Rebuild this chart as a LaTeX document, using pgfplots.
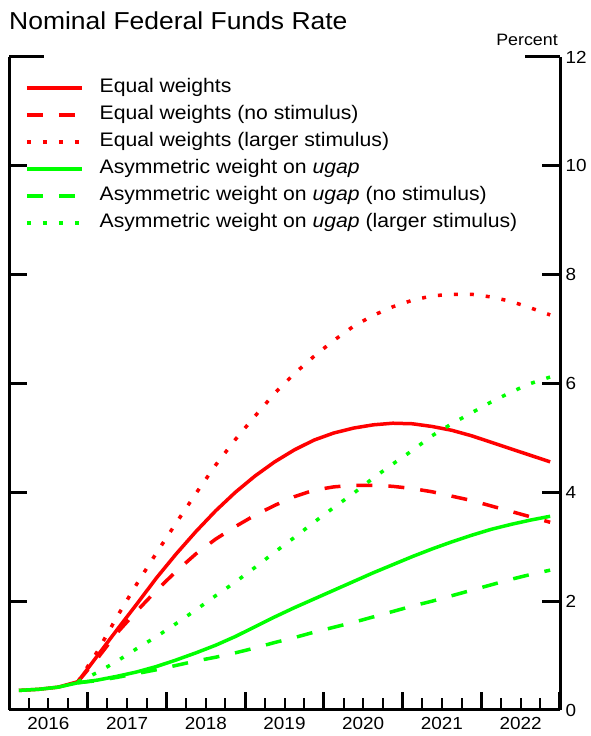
\documentclass[border=0pt]{standalone}
\usepackage{fontspec}
\setmainfont{Liberation Sans}[FakeStretch=1.08]
\usepackage{pgfplots}
\usepackage{pgfplotstable}
\pgfplotsset{compat=1.18}
\definecolor{fred}{RGB}{255,0,0}
\definecolor{fgreen}{RGB}{0,255,0}

\pgfplotstableread{
t v
2016.125 0.36
2016.375 0.38
2016.625 0.42
2016.875 0.52
2017.125 1.00
2017.375 1.48
2017.625 1.95
2017.875 2.43
2018.125 2.87
2018.375 3.28
2018.625 3.66
2018.875 4.00
2019.125 4.30
2019.375 4.56
2019.625 4.78
2019.875 4.96
2020.125 5.09
2020.375 5.18
2020.625 5.24
2020.875 5.27
2021.125 5.26
2021.375 5.21
2021.625 5.14
2021.875 5.04
2022.125 4.92
2022.375 4.80
2022.625 4.68
2022.875 4.56
}\redsolid

\pgfplotstableread{
t v
2016.875 0.52
2017.125 0.95
2017.375 1.42
2017.625 1.82
2017.875 2.20
2018.125 2.55
2018.375 2.87
2018.625 3.14
2018.875 3.37
2019.125 3.58
2019.375 3.76
2019.625 3.92
2019.875 4.04
2020.125 4.10
2020.375 4.13
2020.625 4.13
2020.875 4.11
2021.125 4.07
2021.375 4.01
2021.625 3.93
2021.875 3.85
2022.125 3.75
2022.375 3.65
2022.625 3.55
2022.875 3.45
}\reddash

\pgfplotstableread{
t v
2016.875 0.52
2017.125 1.08
2017.375 1.72
2017.625 2.32
2017.875 2.89
2018.125 3.44
2018.375 3.98
2018.625 4.50
2018.875 4.97
2019.125 5.40
2019.375 5.82
2019.625 6.18
2019.875 6.50
2020.125 6.79
2020.375 7.05
2020.625 7.25
2020.875 7.41
2021.125 7.53
2021.375 7.61
2021.625 7.64
2021.875 7.64
2022.125 7.59
2022.375 7.51
2022.625 7.39
2022.875 7.26
}\reddot

\pgfplotstableread{
t v
2016.125 0.36
2016.375 0.38
2016.625 0.42
2016.875 0.50
2017.125 0.55
2017.375 0.62
2017.625 0.70
2017.875 0.80
2018.125 0.92
2018.375 1.05
2018.625 1.19
2018.875 1.35
2019.125 1.53
2019.375 1.71
2019.625 1.88
2019.875 2.04
2020.125 2.20
2020.375 2.36
2020.625 2.52
2020.875 2.67
2021.125 2.82
2021.375 2.96
2021.625 3.09
2021.875 3.21
2022.125 3.32
2022.375 3.41
2022.625 3.49
2022.875 3.56
}\greensolid

\pgfplotstableread{
t v
2016.875 0.50
2017.125 0.54
2017.375 0.60
2017.625 0.67
2017.875 0.74
2018.125 0.82
2018.375 0.90
2018.625 0.97
2018.875 1.05
2019.125 1.14
2019.375 1.24
2019.625 1.33
2019.875 1.43
2020.125 1.52
2020.375 1.61
2020.625 1.71
2020.875 1.81
2021.125 1.91
2021.375 2.00
2021.625 2.10
2021.875 2.20
2022.125 2.30
2022.375 2.40
2022.625 2.49
2022.875 2.57
}\greendash

\pgfplotstableread{
t v
2016.875 0.52
2017.125 0.69
2017.375 0.90
2017.625 1.13
2017.875 1.35
2018.125 1.59
2018.375 1.84
2018.625 2.10
2018.875 2.35
2019.125 2.62
2019.375 2.90
2019.625 3.17
2019.875 3.45
2020.125 3.72
2020.375 3.98
2020.625 4.26
2020.875 4.52
2021.125 4.77
2021.375 5.04
2021.625 5.26
2021.875 5.46
2022.125 5.66
2022.375 5.84
2022.625 6.00
2022.875 6.12
}\greendot

\begin{document}
\begin{tikzpicture}[x=1pt,y=1pt]
\useasboundingbox (0,0) rectangle (590,736);
\node[anchor=base west, inner sep=0pt, font=\fontsize{24.5}{28}\selectfont] at (9,706) {Nominal Federal Funds Rate};
\node[anchor=base, inner sep=0pt, font=\fontsize{16.5}{20}\selectfont] at (527,690) {Percent};
\begin{axis}[
  at={(9pt,26pt)}, anchor=south west, scale only axis,
  width=551pt, height=653pt,
  xmin=2016, xmax=2023, ymin=0, ymax=12,
  axis x line=bottom, axis y line=box,
  axis line style={-, line width=3pt, black},
  tick align=inside,
  major tick length=18pt, minor tick length=12pt,
  every tick/.style={black, line width=3pt},
  minor tick style={line width=2pt},
  xtick={2016,2017,...,2023},
  xticklabels={,,,,,,,,},
  minor xtick={2016.25,2016.5,2016.75,2017.25,2017.5,2017.75,2018.25,2018.5,2018.75,2019.25,2019.5,2019.75,2020.25,2020.5,2020.75,2021.25,2021.5,2021.75,2022.25,2022.5,2022.75},
  extra x ticks={2016.5,2017.5,2018.5,2019.5,2020.5,2021.5,2022.5},
  extra x tick labels={2016,2017,2018,2019,2020,2021,2022},
  extra x tick style={major tick length=0pt, tick style={draw=none}},
  ytick={0,2,4,6,8,10},
  extra y ticks={12},
  extra y tick labels={12},
  extra y tick style={major tick length=35pt},
  yticklabel pos=right,
  /pgf/number format/assume math mode=true,
  ticklabel style={font=\fontsize{17.5}{20}\selectfont},
  xticklabel style={yshift=-4pt},
  yticklabel style={xshift=2pt},
  legend cell align=left,
  legend style={draw=none, fill=none, at={(rel axis cs:0.0236,0.970)}, anchor=north west,
    font=\fontsize{19.6}{22}\selectfont,
    nodes={inner sep=0pt, text height=14pt, text depth=4pt},
    row sep=9pt, column sep=16pt},
  legend image code/.code={\draw[#1] (0pt,0pt) -- (55pt,0pt);},
  every axis plot/.append style={line width=3.5pt, line cap=butt},
]
\addplot[fred] table[x=t,y=v] {\redsolid};
\addlegendentry{Equal weights}
\addplot[fred, dash pattern=on 16pt off 16pt] table[x=t,y=v] {\reddash};
\addlegendentry{Equal weights (no stimulus)}
\addplot[fred, dash pattern=on 4pt off 12pt] table[x=t,y=v] {\reddot};
\addlegendentry{Equal weights (larger stimulus)}
\addplot[fgreen] table[x=t,y=v] {\greensolid};
\addlegendentry{Asymmetric weight on \textit{ugap}}
\addplot[fgreen, dash pattern=on 16pt off 16pt] table[x=t,y=v] {\greendash};
\addlegendentry{Asymmetric weight on \textit{ugap} (no stimulus)}
\addplot[fgreen, dash pattern=on 4pt off 12pt] table[x=t,y=v] {\greendot};
\addlegendentry{Asymmetric weight on \textit{ugap} (larger stimulus)}
\end{axis}
\end{tikzpicture}
\end{document}
